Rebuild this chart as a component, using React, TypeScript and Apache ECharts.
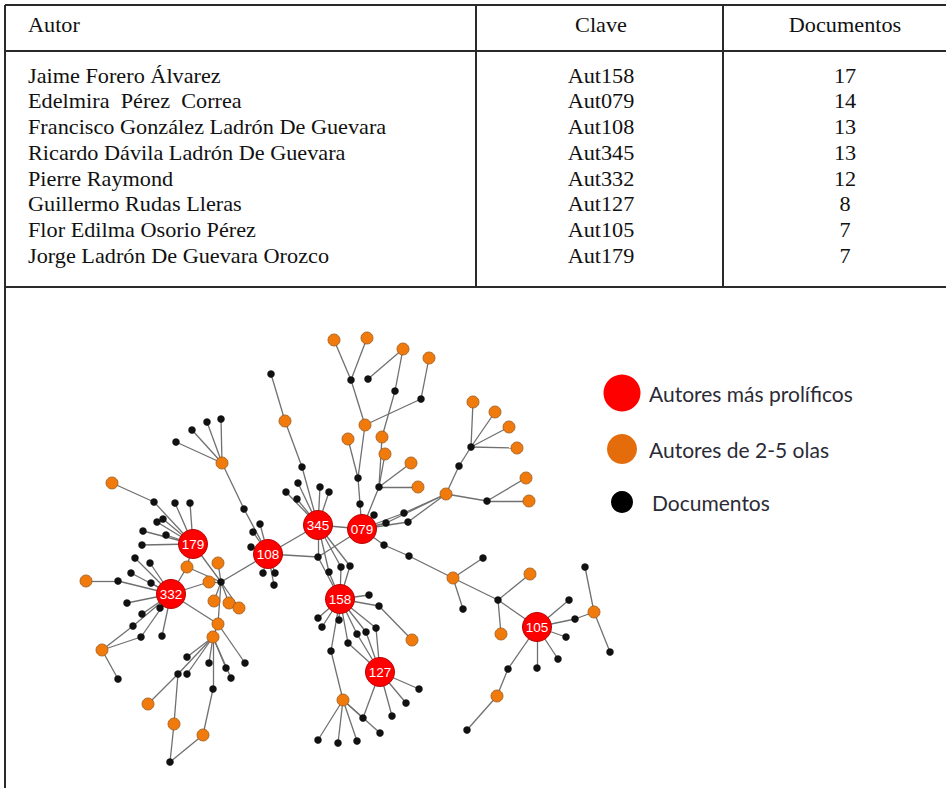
import React, { useEffect, useRef } from "react";
import * as echarts from "echarts";

// ---------- Table data ----------
const tableHeaders = ["Autor", "Clave", "Documentos"];
const authorNames = [
  "Jaime Forero Álvarez",
  "Edelmira  Pérez  Correa",
  "Francisco González Ladrón De Guevara",
  "Ricardo Dávila Ladrón De Guevara",
  "Pierre Raymond",
  "Guillermo Rudas Lleras",
  "Flor Edilma Osorio Pérez",
  "Jorge Ladrón De Guevara Orozco",
];
const authorKeys = ["Aut158", "Aut079", "Aut108", "Aut345", "Aut332", "Aut127", "Aut105", "Aut179"];
const authorDocs = [17, 14, 13, 13, 12, 8, 7, 7];

// ---------- Network data: [id, x, y] ----------
const prolificAuthors: [string, number, number][] = [
  ["345", 318, 525], ["079", 362, 529], ["108", 268, 554], ["179", 193, 544],
  ["332", 171, 594], ["158", 340, 599], ["127", 380, 672], ["105", 537, 627],
];
const waveAuthors: [string, number, number][] = [
  ["o1", 222, 463], ["o2", 285, 421], ["o3", 334, 340], ["o4", 367, 338], ["o5", 403, 349],
  ["o6", 429, 358], ["o7", 365, 425], ["o8", 348, 439], ["o9", 382, 437], ["o10", 385, 454],
  ["o11", 411, 463], ["o12", 418, 487], ["o13", 446, 494], ["o14", 473, 402], ["o15", 495, 412],
  ["o16", 509, 427], ["o17", 517, 448], ["o18", 526, 478], ["o19", 529, 501], ["o20", 453, 578],
  ["o21", 530, 574], ["o22", 501, 634], ["o23", 594, 612], ["o24", 497, 696], ["o25", 412, 640],
  ["o26", 343, 700], ["o27", 112, 483], ["o28", 187, 567], ["o29", 218, 563], ["o30", 209, 582],
  ["o31", 214, 601], ["o32", 229, 603], ["o33", 239, 608], ["o34", 218, 624], ["o35", 213, 637],
  ["o36", 86, 581], ["o37", 102, 650], ["o38", 148, 704], ["o39", 174, 724], ["o40", 203, 735],
];
const documents: [string, number, number][] = [
  ["d1", 176, 442], ["d2", 192, 430], ["d3", 207, 422], ["d4", 221, 419], ["d5", 244, 509],
  ["d6", 271, 374], ["d7", 302, 467], ["d8", 298, 483], ["d9", 286, 492], ["d10", 297, 499],
  ["d11", 320, 487], ["d12", 329, 492], ["d13", 260, 524], ["d14", 253, 532], ["d15", 251, 547],
  ["d16", 263, 573], ["d17", 275, 573], ["d18", 274, 585], ["d19", 318, 557], ["d20", 329, 572],
  ["d21", 341, 567], ["d22", 350, 566], ["d23", 351, 380], ["d24", 368, 379], ["d25", 395, 391],
  ["d26", 421, 399], ["d27", 358, 478], ["d28", 360, 504], ["d29", 379, 487], ["d30", 374, 515],
  ["d31", 386, 523], ["d32", 404, 513], ["d33", 408, 522], ["d34", 459, 466], ["d35", 471, 447],
  ["d36", 487, 501], ["d37", 384, 545], ["d38", 409, 556], ["d39", 483, 558], ["d40", 463, 609],
  ["d41", 498, 600], ["d42", 569, 600], ["d43", 575, 619], ["d44", 566, 637], ["d45", 558, 659],
  ["d46", 537, 668], ["d47", 508, 669], ["d48", 467, 730], ["d49", 585, 567], ["d50", 610, 652],
  ["d51", 318, 618], ["d52", 322, 627], ["d53", 339, 620], ["d54", 369, 595], ["d55", 379, 606],
  ["d56", 331, 651], ["d57", 348, 643], ["d58", 357, 634], ["d59", 366, 632], ["d60", 376, 628],
  ["d61", 419, 689], ["d62", 406, 703], ["d63", 392, 716], ["d64", 363, 718], ["d65", 380, 733],
  ["d66", 318, 740], ["d67", 338, 743], ["d68", 357, 741], ["d69", 154, 502], ["d70", 175, 503],
  ["d71", 190, 503], ["d72", 163, 519], ["d73", 157, 522], ["d74", 143, 531], ["d75", 166, 535],
  ["d76", 142, 545], ["d77", 135, 558], ["d78", 150, 563], ["d79", 131, 573], ["d80", 151, 583],
  ["d81", 118, 581], ["d82", 127, 603], ["d83", 160, 608], ["d84", 142, 614], ["d85", 133, 626],
  ["d86", 141, 637], ["d87", 162, 636], ["d88", 118, 679], ["d89", 221, 582], ["d90", 187, 657],
  ["d91", 209, 663], ["d92", 226, 668], ["d93", 231, 678], ["d94", 213, 689], ["d95", 178, 674],
  ["d96", 187, 674], ["d97", 245, 663], ["d98", 170, 762],
];
const links: [string, string][] = [
  ["o1", "d1"], ["o1", "d2"], ["o1", "d3"], ["o1", "d4"], ["o1", "d5"], ["d5", "108"],
  ["o2", "d6"], ["o2", "d7"], ["d7", "345"],
  ["345", "d8"], ["345", "d9"], ["345", "d10"], ["345", "d11"], ["345", "d12"], ["345", "108"],
  ["345", "079"], ["345", "d19"], ["345", "d20"], ["345", "d21"], ["345", "d22"],
  ["108", "d13"], ["108", "d14"], ["108", "d15"], ["108", "d16"], ["108", "d17"], ["108", "d18"],
  ["108", "d19"], ["108", "d89"],
  ["079", "d19"], ["079", "d28"], ["079", "d29"], ["079", "d30"], ["079", "d31"], ["079", "d32"],
  ["079", "d33"], ["079", "d37"],
  ["d19", "158"],
  ["158", "d20"], ["158", "d21"], ["158", "d22"], ["158", "d51"], ["158", "d52"], ["158", "d53"],
  ["158", "d54"], ["158", "d55"], ["158", "d56"], ["158", "d57"], ["158", "d58"], ["158", "d59"], ["158", "d60"],
  ["d55", "o25"], ["d56", "o26"],
  ["127", "d57"], ["127", "d58"], ["127", "d59"], ["127", "d60"], ["127", "d61"], ["127", "d62"],
  ["127", "d63"], ["127", "d64"],
  ["o26", "d64"], ["o26", "d65"], ["o26", "d66"], ["o26", "d67"], ["o26", "d68"],
  ["o7", "d23"], ["o7", "d26"], ["o7", "d27"], ["d23", "o3"], ["d23", "o4"], ["d24", "o5"],
  ["d25", "o5"], ["d25", "o9"], ["d26", "o6"], ["o8", "d27"], ["d27", "d28"],
  ["o9", "d29"], ["o10", "d29"], ["o11", "d29"], ["o12", "d29"],
  ["o13", "d31"], ["o13", "d32"], ["o13", "d33"], ["o13", "d34"], ["o13", "d36"], ["d34", "d35"],
  ["d35", "o14"], ["d35", "o15"], ["d35", "o16"], ["d35", "o17"], ["d36", "o18"], ["d36", "o19"],
  ["d37", "d38"], ["d38", "o20"], ["o20", "d39"], ["o20", "d40"], ["o20", "d41"],
  ["d41", "105"], ["d41", "o21"], ["d41", "o22"],
  ["105", "d42"], ["105", "d43"], ["105", "d44"], ["105", "d45"], ["105", "d46"], ["105", "d47"],
  ["d43", "o23"], ["o23", "d49"], ["o23", "d50"], ["d47", "o24"], ["o24", "d48"],
  ["179", "d69"], ["179", "d70"], ["179", "d71"], ["179", "d72"], ["179", "d73"], ["179", "d74"],
  ["179", "d75"], ["179", "d76"], ["179", "o28"], ["179", "d89"], ["d69", "o27"],
  ["332", "d77"], ["332", "d78"], ["332", "d79"], ["332", "d80"], ["332", "d81"], ["332", "d82"],
  ["332", "d83"], ["332", "d84"], ["332", "d85"], ["332", "d86"], ["332", "d87"],
  ["d81", "o36"], ["d85", "o37"], ["d86", "o37"], ["o37", "d88"],
  ["332", "o28"], ["332", "o30"], ["332", "o34"], ["o28", "d89"],
  ["d89", "o29"], ["d89", "o30"], ["d89", "o31"], ["d89", "o32"], ["d89", "o33"], ["d89", "o34"],
  ["o34", "o35"], ["o34", "d97"],
  ["o35", "d90"], ["o35", "d91"], ["o35", "d92"], ["o35", "d93"], ["o35", "d94"], ["o35", "d95"], ["o35", "d96"],
  ["d95", "o38"], ["d95", "o39"], ["o39", "d98"], ["d98", "o40"], ["o40", "d94"],
];

// ---------- Legend ----------
const legendLabels = ["Autores más prolíficos", "Autores de 2-5 olas", "Documentos"];

const RED = "#ff0000";
const ORANGE = "#f07a0c";
const LEGEND_ORANGE = "#e46c0a";
const BLACK = "#111111";

const SERIF = "'Liberation Serif', 'Times New Roman', serif";
const SANS = "Lato, 'Open Sans', sans-serif";

function txt(text: string, x: number, y: number, align: string, size: number, family: string, fill: string, scaleX = 1) {
  return {
    type: "text",
    x,
    y,
    scaleX,
    silent: true,
    style: {
      text,
      x: 0,
      y: 0,
      fill,
      fontSize: size,
      fontFamily: family,
      align,
      textAlign: align,
      verticalAlign: "middle",
      textVerticalAlign: "middle",
    },
  };
}

function ln(x1: number, y1: number, x2: number, y2: number) {
  return {
    type: "line",
    silent: true,
    shape: { x1, y1, x2, y2 },
    style: { stroke: "#2a2a2a", lineWidth: 2 },
  };
}

export default function App() {
  const ref = useRef<HTMLDivElement>(null);

  useEffect(() => {
    document.body.style.margin = "0";
    if (!ref.current) return;
    const chart = echarts.init(ref.current, undefined, { renderer: "svg" });

    const rowY0 = 76;
    const rowStep = 25.7;
    const colX = [28, 601, 845];
    const sx = 1.06;

    const tableEls: any[] = [
      ln(5, 5, 946, 5),
      ln(5, 51, 946, 51),
      ln(5, 287, 946, 287),
      ln(5, 5, 5, 788),
      ln(476, 5, 476, 287),
      ln(723, 5, 723, 287),
      txt(tableHeaders[0], colX[0], 25, "left", 21, SERIF, "#111", sx),
      txt(tableHeaders[1], colX[1], 25, "center", 21, SERIF, "#111", sx),
      txt(tableHeaders[2], colX[2], 25, "center", 21, SERIF, "#111", sx),
    ];
    authorNames.forEach((n, i) => {
      const y = rowY0 + i * rowStep;
      tableEls.push(txt(n, colX[0], y, "left", 21, SERIF, "#111", sx));
      tableEls.push(txt(authorKeys[i], colX[1], y, "center", 21, SERIF, "#111", sx));
      tableEls.push(txt(String(authorDocs[i]), colX[2], y, "center", 21, SERIF, "#111", sx));
    });

    const legendColors = [RED, LEGEND_ORANGE, "#000000"];
    const legendR = [18.5, 15, 11];
    const legendY = [393, 449, 502];
    const legendTextX = [649, 649, 652];
    legendLabels.forEach((l, i) => {
      tableEls.push({
        type: "circle",
        silent: true,
        shape: { cx: 622, cy: legendY[i], r: legendR[i] },
        style: { fill: legendColors[i] },
      });
      tableEls.push(txt(l, legendTextX[i], legendY[i], "left", 21, SANS, "#2b2b36"));
    });

    const nodes: any[] = [];
    prolificAuthors.forEach(([id, x, y]) =>
      nodes.push({
        name: id,
        value: [x, y],
        symbolSize: 29,
        itemStyle: { color: RED, borderColor: "#b80000", borderWidth: 1 },
        label: {
          show: true,
          position: "inside",
          formatter: id,
          color: "#ffffff",
          fontSize: 13.5,
          fontFamily: "'Liberation Sans', Arial, sans-serif",
        },
        z: 3,
      })
    );
    waveAuthors.forEach(([id, x, y]) =>
      nodes.push({
        name: id,
        value: [x, y],
        symbolSize: 12,
        itemStyle: { color: ORANGE, borderColor: "#9a5a1e", borderWidth: 0.8 },
        label: { show: false },
      })
    );
    documents.forEach(([id, x, y]) =>
      nodes.push({
        name: id,
        value: [x, y],
        symbolSize: 7.5,
        itemStyle: { color: BLACK, borderWidth: 0 },
        label: { show: false },
      })
    );

    chart.setOption({
      animation: false,
      backgroundColor: "#ffffff",
      grid: { left: 0, top: 0, width: 946, height: 788, show: false },
      xAxis: { type: "value", min: 0, max: 946, show: false },
      yAxis: { type: "value", min: 0, max: 788, inverse: true, show: false },
      tooltip: { show: false },
      graphic: { elements: tableEls },
      series: [
        {
          type: "graph",
          coordinateSystem: "cartesian2d",
          layout: "none",
          symbol: "circle",
          data: nodes,
          links: links.map(([s, t]) => ({ source: s, target: t })),
          lineStyle: { color: "#707070", width: 1.3, opacity: 1, curveness: 0 },
          emphasis: { disabled: true },
          silent: true,
        },
      ],
    });

    return () => chart.dispose();
  }, []);

  return <div ref={ref} style={{ width: 946, height: 788, background: "#fff" }} />;
}
